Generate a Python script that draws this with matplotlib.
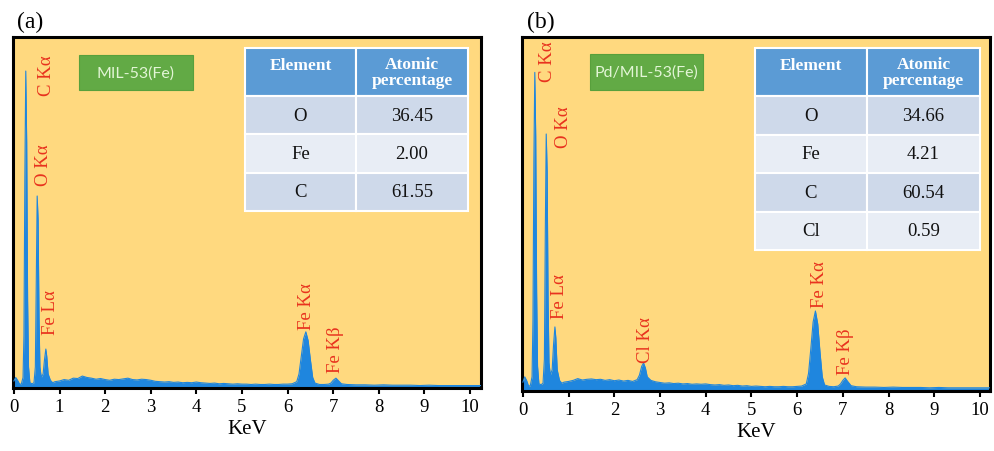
import matplotlib
matplotlib.use('Agg')
import matplotlib.pyplot as plt
from matplotlib.patches import Rectangle

# ---------------- data ----------------
energy_a = [0.00, 0.04, 0.08, 0.12, 0.16, 0.20, 0.22, 0.24, 0.26, 0.28, 0.30, 0.32, 0.35,
            0.40, 0.44, 0.47, 0.49, 0.51, 0.53, 0.55, 0.57, 0.60, 0.64, 0.67, 0.70, 0.72,
            0.75, 0.80, 0.85, 0.90, 1.00,
            1.1, 1.2, 1.3, 1.4, 1.5, 1.6, 1.7, 1.8, 1.9, 2.0, 2.1, 2.2, 2.3, 2.4, 2.5,
            2.6, 2.7, 2.8, 2.9, 3.0, 3.1, 3.2, 3.3, 3.4, 3.5, 3.6, 3.7, 3.8, 3.9, 4.0,
            4.1, 4.2, 4.3, 4.4, 4.5, 4.6, 4.7, 4.8, 4.9, 5.0, 5.1, 5.2, 5.3, 5.4, 5.5,
            5.6, 5.7, 5.8, 5.9, 6.0, 6.1, 6.2, 6.25, 6.30, 6.35, 6.40, 6.45, 6.50, 6.55,
            6.60, 6.7, 6.8, 6.9, 6.95, 7.00, 7.06, 7.12, 7.18, 7.3, 7.5, 7.7, 7.9, 8.1,
            8.3, 8.5, 8.7, 8.9, 9.1, 9.3, 9.5, 9.7, 9.9, 10.1, 10.24]
counts_a = [20, 30, 22, 12, 10, 30, 150, 600, 903, 700, 250, 60, 15,
            12, 15, 60, 300, 547, 480, 200, 60, 30, 40, 80, 111, 90,
            40, 22, 15, 18, 20,
            24, 22, 28, 27, 34, 30, 28, 25, 27, 24, 22, 25, 24, 26, 28,
            24, 23, 25, 24, 22, 19, 18, 17, 18, 16, 17, 15, 16, 15, 17,
            15, 14, 13, 14, 12, 13, 12, 11, 12, 11, 11, 10, 11, 10, 10,
            11, 10, 10, 11, 11, 12, 18, 40, 90, 140, 160, 135, 80, 30,
            14, 10, 10, 11, 14, 22, 28, 20, 12, 10, 9, 9, 8, 9,
            8, 8, 8, 7, 8, 7, 7, 7, 7, 7, 7]

energy_b = [0.00, 0.04, 0.08, 0.12, 0.16, 0.20, 0.22, 0.24, 0.26, 0.28, 0.30, 0.32, 0.35,
            0.40, 0.44, 0.47, 0.49, 0.51, 0.53, 0.55, 0.57, 0.60, 0.64, 0.67, 0.70, 0.72,
            0.75, 0.80, 0.85, 0.90, 1.00,
            1.1, 1.2, 1.3, 1.4, 1.5, 1.6, 1.7, 1.8, 1.9, 2.0, 2.1, 2.2, 2.3, 2.4, 2.5,
            2.55, 2.60, 2.64, 2.68, 2.72, 2.8, 2.9, 3.0, 3.1, 3.2, 3.3, 3.4, 3.5, 3.6,
            3.7, 3.8, 3.9, 4.0, 4.1, 4.2, 4.3, 4.4, 4.5, 4.6, 4.7, 4.8, 4.9, 5.0, 5.1,
            5.2, 5.3, 5.4, 5.5, 5.6, 5.7, 5.8, 5.9, 6.0, 6.1, 6.2, 6.25, 6.30, 6.35,
            6.40, 6.45, 6.50, 6.55, 6.60, 6.7, 6.8, 6.9, 6.95, 7.00, 7.05, 7.10, 7.18,
            7.3, 7.5, 7.7, 7.9, 8.1, 8.3, 8.5, 8.7, 8.9, 9.1, 9.3, 9.5, 9.7, 9.9, 10.1, 10.22]
counts_b = [25, 40, 30, 15, 14, 40, 200, 650, 900, 720, 280, 70, 20,
            18, 22, 90, 450, 726, 620, 260, 80, 45, 60, 130, 181, 150,
            60, 30, 22, 25, 27,
            30, 35, 31, 33, 34, 32, 33, 30, 32, 29, 31, 28, 30, 27, 32,
            45, 70, 79, 65, 40, 30, 26, 24, 22, 23, 21, 22, 20, 21,
            19, 20, 19, 20, 18, 17, 18, 16, 17, 15, 16, 14, 15, 13, 14,
            13, 12, 13, 12, 12, 13, 12, 12, 13, 14, 20, 50, 120, 195,
            226, 190, 110, 40, 17, 13, 12, 14, 20, 30, 37, 28, 15,
            12, 11, 11, 10, 11, 10, 10, 10, 9, 10, 9, 9, 9, 9, 9, 9]

peaks_a = ["C K\u03b1", "O K\u03b1", "Fe L\u03b1", "Fe K\u03b1", "Fe K\u03b2"]
peaks_b = ["C K\u03b1", "O K\u03b1", "Fe L\u03b1", "Cl K\u03b1", "Fe K\u03b1", "Fe K\u03b2"]

samples = ["MIL-53(Fe)", "Pd/MIL-53(Fe)"]
panel_tags = ["(a)", "(b)"]
table_header = ["Element", "Atomic\npercentage"]
elements_a = ["O", "Fe", "C"]
atomic_a = ["36.45", "2.00", "61.55"]
elements_b = ["O", "Fe", "C", "Cl"]
atomic_b = ["34.66", "4.21", "60.54", "0.59"]
xticks = list(range(0, 11))

# ---------------- styles ----------------
W, H = 995, 452
BG = '#FFD97F'
BLUE = '#1F86DE'
RED = '#E8321E'
HEAD = '#5B9BD5'
ROW_DARK = '#CED9EA'
ROW_LIGHT = '#E8EDF5'
GREEN = '#62AA45'
SERIF = 'Liberation Serif'

fig = plt.figure(figsize=(W / 100, H / 100), dpi=100)
fig.patch.set_facecolor('white')


def fx(px):
    return px / W


def fy(py):
    return 1 - py / H


def make_ax(l, t, r, b):
    return fig.add_axes([fx(l), fy(b), fx(r) - fx(l), fy(t) - fy(b)])


def style_ax(ax, xmax):
    ax.set_facecolor(BG)
    ax.set_xlim(-0.02, xmax)
    ax.set_ylim(0, 1000)
    ax.set_yticks([])
    ax.set_xticks(xticks)
    ax.set_xticklabels([str(t) for t in xticks], fontfamily=SERIF, fontsize=13.5)
    ax.tick_params(axis='x', direction='out', length=4, width=1.5, pad=3)
    for s in ax.spines.values():
        s.set_linewidth(2.2)
        s.set_color('black')
    ax.set_xlabel("KeV", fontfamily=SERIF, fontsize=15, labelpad=3)


def rect(l, t, r, b, color, lw=1.5):
    fig.add_artist(Rectangle((fx(l), fy(b)), fx(r) - fx(l), fy(t) - fy(b),
                             transform=fig.transFigure, facecolor=color,
                             edgecolor='white', linewidth=lw))


def draw_table(l, mid, r, top, head_b, row_h, elements, values):
    rect(l, top, mid, head_b, HEAD)
    rect(mid, top, r, head_b, HEAD)
    fig.text(fx((l + mid) / 2), fy((top + head_b) / 2 - 7), table_header[0],
             ha='center', va='center', fontfamily=SERIF, fontsize=12.5,
             fontweight='bold', color='white')
    fig.text(fx((mid + r) / 2), fy((top + head_b) / 2), table_header[1],
             ha='center', va='center', fontfamily=SERIF, fontsize=12.5,
             fontweight='bold', color='white', linespacing=1.05)
    for i, (el, v) in enumerate(zip(elements, values)):
        t = head_b + i * row_h
        b = t + row_h
        c = ROW_DARK if i % 2 == 0 else ROW_LIGHT
        rect(l, t, mid, b, c)
        rect(mid, t, r, b, c)
        fig.text(fx((l + mid) / 2), fy((t + b) / 2), el, ha='center', va='center',
                 fontfamily=SERIF, fontsize=13.5, color='#111111')
        fig.text(fx((mid + r) / 2), fy((t + b) / 2), v, ha='center', va='center',
                 fontfamily=SERIF, fontsize=13.5, color='#111111')


def green_box(l, t, r, b, text):
    fig.add_artist(Rectangle((fx(l), fy(b)), fx(r) - fx(l), fy(t) - fy(b),
                             transform=fig.transFigure, facecolor=GREEN,
                             edgecolor='#58a03c', linewidth=0.8))
    fig.text(fx((l + r) / 2), fy((t + b) / 2), text, ha='center', va='center',
             fontfamily='Lato', fontsize=11.5, color='#E2F5D6')


def peak_label(x, y, text):
    fig.text(fx(x), fy(y), text, rotation=90, ha='center', va='center',
             fontfamily=SERIF, fontsize=13.5, color=RED)


# ---------------- panel (a) ----------------
ax_a = make_ax(13, 38, 481, 389)
style_ax(ax_a, 10.24)
ax_a.fill_between(energy_a, counts_a, 0, color=BLUE, linewidth=0, zorder=2)
ax_a.plot(energy_a, counts_a, color=BLUE, linewidth=0.8, zorder=3)
fig.text(fx(30), fy(22), panel_tags[0], ha='center', va='center',
         fontfamily=SERIF, fontsize=17)
green_box(79, 56, 193, 91, samples[0])
draw_table(245, 356, 468, 49, 97, 38.3, elements_a, atomic_a)
for (x, y), t in zip([(47, 76), (44, 165), (51, 313), (307, 307), (336, 350)], peaks_a):
    peak_label(x, y, t)

# ---------------- panel (b) ----------------
ax_b = make_ax(522, 38, 990, 392)
style_ax(ax_b, 10.22)
ax_b.fill_between(energy_b, counts_b, 0, color=BLUE, linewidth=0, zorder=2)
ax_b.plot(energy_b, counts_b, color=BLUE, linewidth=0.8, zorder=3)
fig.text(fx(541), fy(22), panel_tags[1], ha='center', va='center',
         fontfamily=SERIF, fontsize=17)
green_box(590, 55, 703, 91, samples[1])
draw_table(755, 867, 980, 49, 97, 38.5, elements_b, atomic_b)
for (x, y), t in zip([(548, 62), (564, 127), (560, 297), (645, 340), (820, 285), (846, 352)], peaks_b):
    peak_label(x, y, t)

fig.savefig('out.png', dpi=100)
